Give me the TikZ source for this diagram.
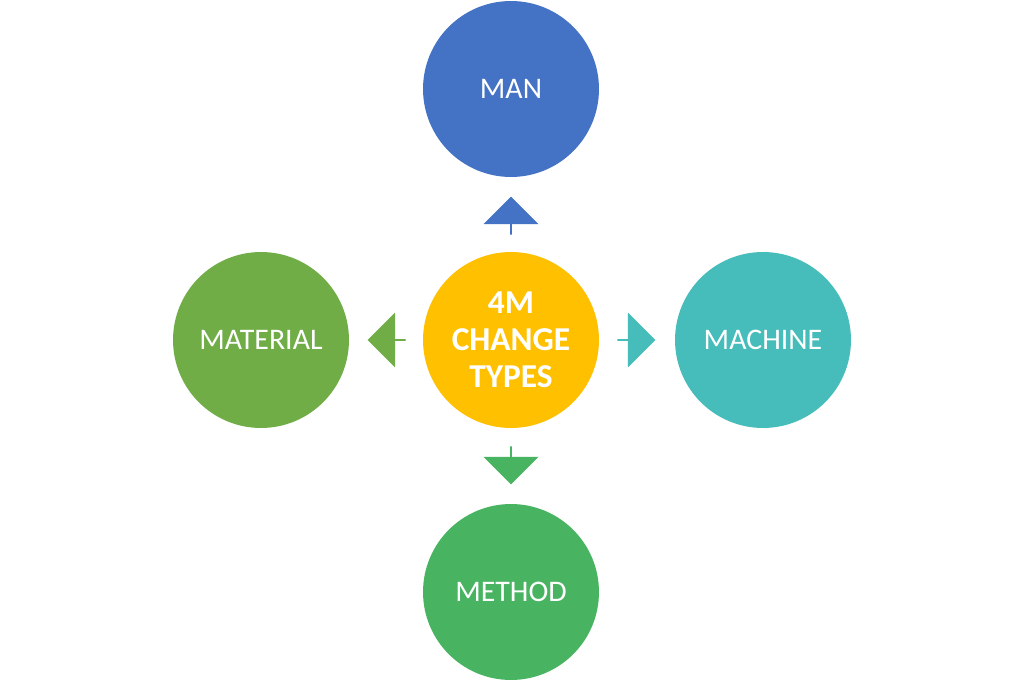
\documentclass[tikz,border=0pt]{standalone}
\usepackage{fontspec}
\setmainfont{Carlito}
\usetikzlibrary{shapes.arrows}
\definecolor{cman}{HTML}{4472C4}
\definecolor{ccen}{HTML}{FFC000}
\definecolor{cmac}{HTML}{46BDBA}
\definecolor{cmat}{HTML}{70AD47}
\definecolor{cmet}{HTML}{48B461}
\begin{document}
\begin{tikzpicture}[x=0.02cm,y=-0.02cm,
  circ/.style={circle,minimum size=3.52cm,inner sep=0pt,text=white,font=\fontsize{17}{20}\selectfont,align=center},
  barrow/.style={single arrow,minimum height=0.76cm,minimum width=1.1cm,single arrow head extend=0.2cm,inner sep=0pt,outer sep=0pt}]
\useasboundingbox (0,0) rectangle (1024,682);
\fill[white] (0,0) rectangle (1024,682);
\node[circ,fill=ccen,font=\bfseries\fontsize{19}{21}\selectfont] (c) at (511,340) {4M\\CHANGE\\TYPES};
\node[circ,fill=cman] (man) at (511,89) {MAN};
\node[circ,fill=cmat] (mat) at (261,340) {MATERIAL};
\node[circ,fill=cmac] (mac) at (763,340) {MACHINE};
\node[circ,fill=cmet] (met) at (511,592) {METHOD};
\node[barrow,fill=cman,shape border rotate=90] (a1) at (511,216) {};
\node[barrow,fill=cmac,shape border rotate=0] (a2) at (636,340) {};
\node[barrow,fill=cmat,shape border rotate=180] (a3) at (387,340) {};
\node[barrow,fill=cmet,shape border rotate=270] (a4) at (511,465) {};
\end{tikzpicture}
\end{document}
